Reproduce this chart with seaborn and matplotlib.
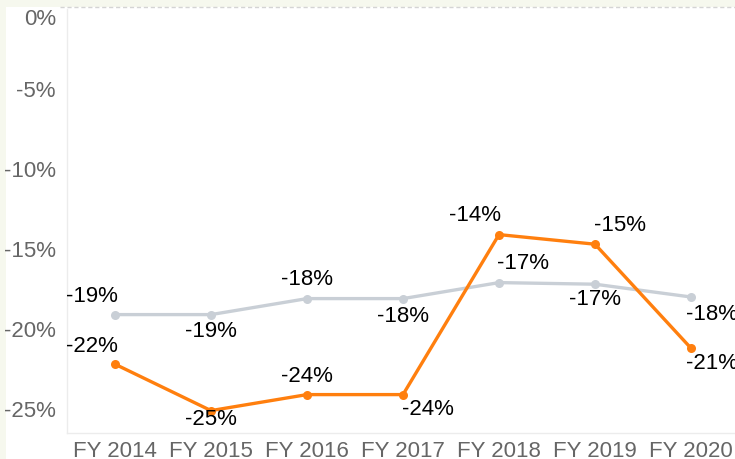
import matplotlib
matplotlib.use("Agg")
import matplotlib.pyplot as plt
import pandas as pd
import seaborn as sns

years = ["FY 2014", "FY 2015", "FY 2016", "FY 2017", "FY 2018", "FY 2019", "FY 2020"]
orange_vals = [-22.2, -25.1, -24.1, -24.1, -14.1, -14.7, -21.2]
gray_vals = [-19.1, -19.1, -18.1, -18.1, -17.1, -17.2, -18.0]
orange_labels = ["-22%", "-25%", "-24%", "-24%", "-14%", "-15%", "-21%"]
gray_labels = ["-19%", "-19%", "-18%", "-18%", "-17%", "-17%", "-18%"]
y_ticks = [0, -5, -10, -15, -20, -25]

# label offsets in pixels (dx right, dy down)
orange_off = [(-23, -18), (0, 9), (0, -18), (25, 15), (-24, -19), (25, -19), (21, 15)]
gray_off = [(-23, -18), (0, 17), (0, -19), (0, 18), (24, -19), (0, 15), (21, 17)]

df = pd.DataFrame({
    "year": years * 2,
    "value": orange_vals + gray_vals,
    "series": ["orange"] * len(years) + ["gray"] * len(years),
})
df["x"] = list(range(len(years))) * 2

sns.set_style("white")
plt.rcParams["font.family"] = ["Liberation Sans", "DejaVu Sans"]

fig = plt.figure(figsize=(7.35, 4.59), dpi=100, facecolor="#f6f8ee")
# white panel behind everything
fig.patches.append(plt.Rectangle((6 / 735, 0), 1, 1 - 7 / 459, transform=fig.transFigure,
                                 facecolor="white", edgecolor="none", zorder=-10))
fig.lines.append(plt.Line2D([60 / 735, 1], [1 - 7 / 459, 1 - 7 / 459], transform=fig.transFigure,
                            color="#d4d4d4", lw=1, ls=(0, (3, 2)), zorder=-5))

ax = fig.add_axes([67 / 735, 1 - 433 / 459, 1 - 67 / 735, (433 - 9) / 459])
ax.set_facecolor("white")

palette = {"orange": "#ff7f0e", "gray": "#c9cfd6"}
sns.lineplot(data=df[df.series == "gray"], x="x", y="value", color=palette["gray"],
             lw=2.4, marker="o", markersize=6.5, markeredgewidth=0, ax=ax, legend=False)
sns.lineplot(data=df[df.series == "orange"], x="x", y="value", color=palette["orange"],
             lw=2.4, marker="o", markersize=6.5, markeredgewidth=0, ax=ax, legend=False)

for vals, labs, offs in [(gray_vals, gray_labels, gray_off), (orange_vals, orange_labels, orange_off)]:
    for i, (v, t, o) in enumerate(zip(vals, labs, offs)):
        ax.annotate(t, (i, v), xytext=(o[0] * 0.72, -o[1] * 0.72), textcoords="offset points",
                    ha="center", va="center", fontsize=16, color="black", annotation_clip=False)

ax.set_xlim(-0.5, 6.5 - 4 / 96)
ax.set_ylim(-26.5, 0)
ax.set_yticks(y_ticks)
ax.set_yticklabels([f"{t}%" for t in y_ticks])
ax.set_xticks(range(len(years)))
ax.set_xticklabels(years)
ax.set_xticks([i + 0.5 for i in range(len(years) - 1)], minor=True)
ax.tick_params(axis="x", which="major", length=0, pad=6, labelsize=16, labelcolor="#666666")
ax.tick_params(axis="x", which="minor", length=6, color="#e6e6e6", width=1)
ax.tick_params(axis="y", length=5, color="#e6e6e6", pad=3, labelsize=16, labelcolor="#666666")
ax.get_yticklabels()[0].set_va("top")
ax.set_xlabel("")
ax.set_ylabel("")
for s in ["top", "right"]:
    ax.spines[s].set_visible(False)
for s in ["left", "bottom"]:
    ax.spines[s].set_color("#ececec")
    ax.spines[s].set_linewidth(1)

fig.savefig("out.png", dpi=100, facecolor=fig.get_facecolor())
